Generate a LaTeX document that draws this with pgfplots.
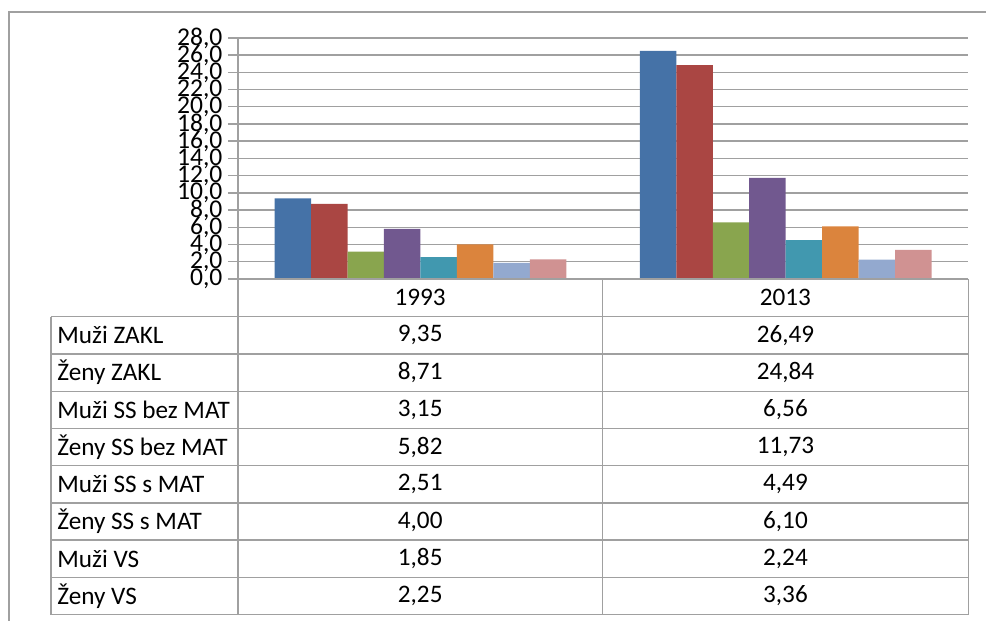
\documentclass[border=0pt]{standalone}
\usepackage{fontspec}
\setmainfont{Carlito}
\usepackage{pgfplots}
\pgfplotsset{compat=1.18}
\definecolor{c1}{HTML}{4572A7}
\definecolor{c2}{HTML}{AA4643}
\definecolor{c3}{HTML}{89A54E}
\definecolor{c4}{HTML}{71588F}
\definecolor{c5}{HTML}{4198AF}
\definecolor{c6}{HTML}{DB843D}
\definecolor{c7}{HTML}{93A9CF}
\definecolor{c8}{HTML}{D09292}
\definecolor{ln}{HTML}{A0A0A0}
\begin{document}
\begin{tikzpicture}
\begin{scope}[x=0.5pt,y=-0.5pt]
\path (0,0) rectangle (987,621);
\draw[ln, line width=0.7pt] (9,621) -- (9,12) -- (987,12);
\end{scope}
\begin{axis}[
  at={(119pt,-139.5pt)}, anchor=south west,
  scale only axis, width=365.5pt, height=120.5pt,
  ybar=0pt, bar width=18.25pt,
  xmin=0.5, xmax=2.5, ymin=0, ymax=28,
  enlargelimits=false,
  xtick=\empty,
  ytick={0,2,...,28},
  axis x line=none,
  axis y line*=left,
  y axis line style={ln, line width=0.7pt},
  ymajorgrids,
  grid style={ln, line width=0.7pt},
  tick align=outside,
  major tick length=5pt,
  tick style={ln, line width=0.7pt},
  yticklabel style={font=\fontsize{12.8}{12.8}\selectfont, text=black, inner sep=0pt, xshift=-2.5pt},
  /pgf/number format/.cd, fixed, fixed zerofill, precision=1, use comma, assume math mode=true,
]
\addplot[fill=c1, draw=none] coordinates {(1,9.35) (2,26.49)};
\addplot[fill=c2, draw=none] coordinates {(1,8.71) (2,24.84)};
\addplot[fill=c3, draw=none] coordinates {(1,3.15) (2,6.56)};
\addplot[fill=c4, draw=none] coordinates {(1,5.82) (2,11.73)};
\addplot[fill=c5, draw=none] coordinates {(1,2.51) (2,4.49)};
\addplot[fill=c6, draw=none] coordinates {(1,4.00) (2,6.10)};
\addplot[fill=c7, draw=none] coordinates {(1,1.85) (2,2.24)};
\addplot[fill=c8, draw=none] coordinates {(1,2.25) (2,3.36)};
\end{axis}
\begin{scope}[x=0.5pt,y=-0.5pt, font=\fontsize{12.6}{12.6}\selectfont]
\draw[ln, line width=0.7pt] (238,279) -- (969,279);
\foreach \k in {0,...,8} {
  \draw[ln, line width=0.7pt] (51,317+37.25*\k) -- (969,317+37.25*\k);
}
\draw[ln, line width=0.7pt] (51,317) -- (51,615);
\draw[ln, line width=0.7pt] (238,279) -- (238,615);
\draw[ln, line width=0.7pt] (603,279) -- (603,615);
\draw[ln, line width=0.7pt] (969,279) -- (969,615);
\node at (420.5,298) {1993};
\node at (786,298) {2013};
\foreach \lab/\a/\b [count=\i from 0] in {Muži ZAKL/{9,35}/{26,49}, Ženy ZAKL/{8,71}/{24,84}, Muži SS bez MAT/{3,15}/{6,56}, Ženy SS bez MAT/{5,82}/{11,73}, Muži SS s MAT/{2,51}/{4,49}, Ženy SS s MAT/{4,00}/{6,10}, Muži VS/{1,85}/{2,24}, Ženy VS/{2,25}/{3,36}} {
  \node[anchor=west, inner sep=0pt] at (57,317+37.25*\i+18.6) {\lab};
  \node at (420.5,317+37.25*\i+18.6) {\a};
  \node at (786,317+37.25*\i+18.6) {\b};
}
\end{scope}
\end{tikzpicture}
\end{document}
